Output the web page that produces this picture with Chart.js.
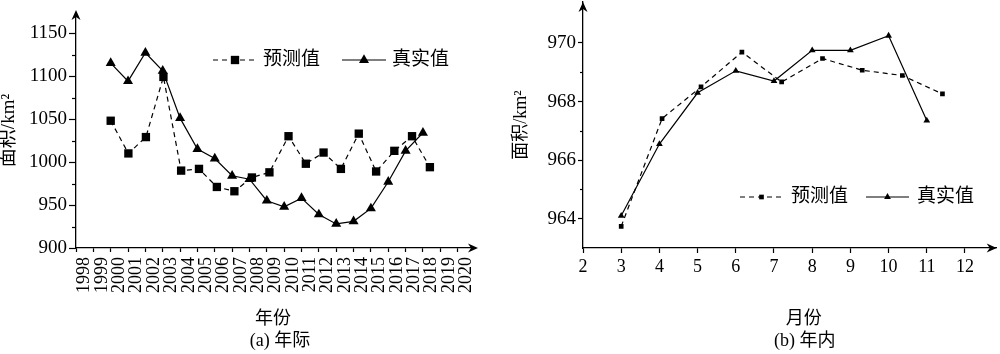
<!DOCTYPE html>
<html>
<head>
<meta charset="utf-8">
<script src="https://cdn.jsdelivr.net/npm/chart.js"></script>
<style>
    html, body { margin: 0; padding: 0; background: #fff; }
    #wrap { display: flex; width: 1000px; height: 354px; }
    canvas { display: block; }
</style>
</head>
<body>
<div id="wrap">
    <canvas id="yearChart" width="500" height="354"></canvas>
    <canvas id="monthChart" width="500" height="354"></canvas>
</div>
<script>
// (a) 年际 数据
const yearTicks = [1998, 1999, 2000, 2001, 2002, 2003, 2004, 2005, 2006, 2007, 2008, 2009,
    2010, 2011, 2012, 2013, 2014, 2015, 2016, 2017, 2018, 2019, 2020];
const yearAreaTicks = [900, 950, 1000, 1050, 1100, 1150];
const yearPredX = [2000, 2001.02, 2002.03, 2003.04, 2004.06, 2005.09, 2006.12, 2007.13, 2008.14, 2009.15,
    2010.25, 2011.25, 2012.27, 2013.27, 2014.3, 2015.3, 2016.35, 2017.37, 2018.4];
const yearPredArea = [1048, 1010, 1029, 1099, 990, 992, 971, 966, 982, 988,
    1030, 998, 1011, 992, 1033, 989, 1013, 1030, 994];
const yearRealX = [2000, 2001, 2002, 2003, 2004, 2005, 2006, 2007, 2008, 2009,
    2010, 2011, 2012, 2013, 2014, 2015, 2016, 2017, 2018];
const yearRealArea = [1115, 1094, 1127, 1106, 1051, 1015, 1004, 984, 980, 955,
    948, 958, 939, 928, 931, 946, 977, 1013, 1034];

// (b) 年内 数据
const monthTicks = [2, 3, 4, 5, 6, 7, 8, 9, 10, 11, 12];
const monthAreaTicks = [964, 966, 968, 970];
const monthPredX = [3, 4.07, 5.09, 6.16, 7.2, 8.27, 9.31, 10.36, 11.41];
const monthPredArea = [963.74, 967.42, 968.5, 969.69, 968.67, 969.47, 969.07, 968.89, 968.26];
const monthRealX = [3, 4, 5, 6, 7, 8, 9, 10, 11];
const monthRealArea = [964.1, 966.55, 968.3, 969.05, 968.7, 969.75, 969.75, 970.25, 967.35];

const serif = "'Liberation Serif', 'Noto Sans CJK SC', serif";

// 次刻度（主刻度中点）
const minorTicks = {
    id: 'minorTicks',
    afterDraw(chart, args, opts) {
        const ctx = chart.ctx;
        const y = chart.scales.y;
        const vals = y.ticks.map(t => t.value);
        const left = chart.chartArea.left;
        ctx.save();
        ctx.strokeStyle = '#000';
        ctx.lineWidth = 1.2;
        for (let i = 0; i < vals.length - 1; i++) {
            const py = Math.round(y.getPixelForValue((vals[i] + vals[i + 1]) / 2)) + 0.5;
            ctx.beginPath();
            ctx.moveTo(left - opts.length, py);
            ctx.lineTo(left, py);
            ctx.stroke();
        }
        ctx.restore();
    }
};

// 坐标轴箭头
const axisArrows = {
    id: 'axisArrows',
    afterDraw(chart, args, opts) {
        const ctx = chart.ctx;
        const { left, right, top, bottom } = chart.chartArea;
        const L = opts.length, W = opts.width, o = opts.overshoot;
        ctx.save();
        ctx.fillStyle = '#000';
        // x 轴
        let tx = right + o;
        ctx.beginPath();
        ctx.moveTo(tx, bottom);
        ctx.lineTo(tx - L, bottom - W);
        ctx.lineTo(tx - L * 0.7, bottom);
        ctx.lineTo(tx - L, bottom + W);
        ctx.closePath();
        ctx.fill();
        // y 轴
        let ty = top - o;
        ctx.beginPath();
        ctx.moveTo(left, ty);
        ctx.lineTo(left - W, ty + L);
        ctx.lineTo(left, ty + L * 0.7);
        ctx.lineTo(left + W, ty + L);
        ctx.closePath();
        ctx.fill();
        ctx.restore();
    }
};

// 图例：线段 + 标记 + 文字
const lineLegend = {
    id: 'lineLegend',
    afterDraw(chart, args, opts) {
        const ctx = chart.ctx;
        let x = opts.x;
        const y = opts.y;
        ctx.save();
        ctx.font = opts.font;
        ctx.textBaseline = 'middle';
        chart.data.datasets.forEach(ds => {
            ctx.save();
            ctx.strokeStyle = ds.borderColor;
            ctx.lineWidth = ds.borderWidth;
            ctx.setLineDash(ds.borderDash || []);
            ctx.beginPath();
            ctx.moveTo(x, y);
            ctx.lineTo(x + opts.lineLength, y);
            ctx.stroke();
            ctx.restore();
            ctx.fillStyle = ds.pointBackgroundColor;
            Chart.helpers.drawPoint(ctx, {
                pointStyle: ds.pointStyle, radius: ds.pointRadius, borderWidth: 0, rotation: 0
            }, x + opts.lineLength / 2, y);
            ctx.fillStyle = '#000';
            const tx = x + opts.lineLength + opts.gap;
            ctx.fillText(ds.label, tx, y);
            x = tx + ctx.measureText(ds.label).width + opts.itemGap;
        });
        ctx.restore();
    }
};

// 横轴标题和图注
const captions = {
    id: 'captions',
    afterDraw(chart, args, opts) {
        const ctx = chart.ctx;
        const cx = (chart.chartArea.left + chart.chartArea.right) / 2;
        ctx.save();
        ctx.font = opts.font;
        ctx.fillStyle = '#000';
        ctx.textAlign = 'center';
        ctx.textBaseline = 'middle';
        ctx.fillText(opts.axisTitle, cx + opts.titleShift, opts.titleY);
        ctx.fillText(opts.caption, cx + opts.captionShift, opts.captionY);
        ctx.restore();
    }
};

function makeSeries(label, xs, ys, dashed, radius) {
    return {
        label: label,
        data: xs.map((x, i) => ({ x: x, y: ys[i] })),
        borderColor: '#000',
        borderWidth: 1.2,
        borderDash: dashed ? [5, 4] : [],
        pointStyle: dashed ? 'rect' : 'triangle',
        pointRadius: radius,
        pointBorderWidth: 0,
        pointBackgroundColor: '#000',
        tension: 0,
        order: dashed ? 2 : 1
    };
}

function makeChart(id, cfg) {
    const ctx = document.getElementById(id).getContext('2d');
    return new Chart(ctx, {
        type: 'line',
        data: { datasets: cfg.datasets },
        plugins: [minorTicks, axisArrows, lineLegend, captions],
        options: {
            responsive: false,
            animation: false,
            layout: { autoPadding: false, padding: cfg.padding },
            scales: {
                x: {
                    type: 'linear',
                    min: cfg.xMin,
                    max: cfg.xMax,
                    afterBuildTicks: s => { s.ticks = cfg.xTicks.map(v => ({ value: v })); },
                    afterFit: s => { s.height = cfg.xHeight; s.paddingLeft = 0; s.paddingRight = 0; },
                    grid: { drawOnChartArea: false, tickLength: cfg.xTickLength, tickColor: '#000', tickWidth: 1.2 },
                    border: { color: '#000', width: 1.3 },
                    ticks: {
                        autoSkip: false,
                        minRotation: cfg.xRotation,
                        maxRotation: cfg.xRotation,
                        labelOffset: cfg.xLabelOffset,
                        padding: 5,
                        color: '#000',
                        font: { family: serif, size: cfg.xFontSize, lineHeight: 1 },
                        callback: v => String(v)
                    }
                },
                y: {
                    type: 'linear',
                    min: cfg.yMin,
                    max: cfg.yMax,
                    afterBuildTicks: s => { s.ticks = cfg.yTicks.map(v => ({ value: v })); },
                    afterFit: s => { s.width = cfg.yWidth; s.paddingTop = 0; s.paddingBottom = 0; },
                    grid: { drawOnChartArea: false, tickLength: cfg.yTickLength, tickColor: '#000', tickWidth: 1.2 },
                    border: { color: '#000', width: 1.3 },
                    ticks: {
                        padding: 2,
                        color: '#000',
                        font: { family: serif, size: 19 },
                        callback: v => String(v)
                    },
                    title: {
                        display: true,
                        text: '面积/km²',
                        color: '#000',
                        font: { family: serif, size: cfg.yTitleSize, lineHeight: 1 },
                        padding: { top: cfg.yTitlePad, bottom: 0 }
                    }
                }
            },
            plugins: {
                legend: { display: false },
                tooltip: { enabled: false },
                minorTicks: { length: cfg.minorLength },
                axisArrows: { length: 10, width: 4.5, overshoot: cfg.overshoot },
                lineLegend: cfg.legend,
                captions: cfg.captions
            }
        }
    });
}

makeChart('yearChart', {
    datasets: [
        makeSeries('预测值', yearPredX, yearPredArea, true, 5.9),
        makeSeries('真实值', yearRealX, yearRealArea, false, 5.8)
    ],
    padding: { left: 0, right: 25, top: 13, bottom: 0 },
    xMin: 1998, xMax: 2021, xTicks: yearTicks, xHeight: 106, xTickLength: 4,
    xRotation: 90, xLabelOffset: 8.7, xFontSize: 18,
    yMin: 900, yMax: 1173.3, yTicks: yearAreaTicks, yWidth: 76, yTickLength: 7,
    yTitleSize: 19, yTitlePad: 0, minorLength: 4, overshoot: 3,
    legend: { x: 213, y: 60, lineLength: 44, gap: 6, itemGap: 22, font: "19px " + serif },
    captions: { axisTitle: '年份', caption: '(a) 年际', titleShift: -2.5, titleY: 319,
        captionShift: 4.5, captionY: 341, font: "18px " + serif }
});

makeChart('monthChart', {
    datasets: [
        makeSeries('预测值', monthPredX, monthPredArea, true, 3.3),
        makeSeries('真实值', monthRealX, monthRealArea, false, 3.9)
    ],
    padding: { left: 0, right: 3.3, top: 2, bottom: 0 },
    xMin: 2, xMax: 12.83, xTicks: monthTicks, xHeight: 106, xTickLength: 5,
    xRotation: 0, xLabelOffset: 0, xFontSize: 18,
    yMin: 963, yMax: 971.4, yTicks: monthAreaTicks, yWidth: 83, yTickLength: 5,
    yTitleSize: 18, yTitlePad: 12.7, minorLength: 3, overshoot: 0,
    legend: { x: 240, y: 197, lineLength: 43, gap: 8, itemGap: 18, font: "19px " + serif },
    captions: { axisTitle: '月份', caption: '(b) 年内', titleShift: 14, titleY: 319,
        captionShift: 15, captionY: 341, font: "18px " + serif }
});
</script>
</body>
</html>
